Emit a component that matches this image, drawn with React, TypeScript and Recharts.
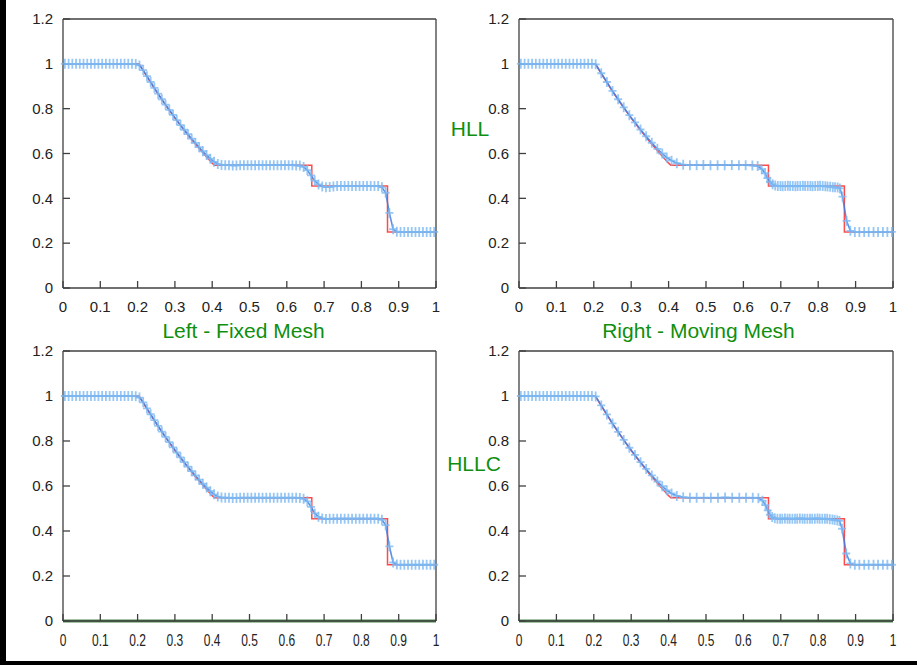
import { LineChart, Line, XAxis, YAxis } from "recharts";

const xTicks = [0, 0.1, 0.2, 0.3, 0.4, 0.5, 0.6, 0.7, 0.8, 0.9, 1];
const yTicks = [0, 0.2, 0.4, 0.6, 0.8, 1, 1.2];

// exact solution (red)
const exactX = [0, 0.204, 0.225, 0.25, 0.275, 0.3, 0.325, 0.35, 0.375, 0.4, 0.406, 0.667, 0.667, 0.87, 0.87, 1];
const exactY = [1, 1, 0.943, 0.877, 0.816, 0.758, 0.703, 0.651, 0.603, 0.557, 0.548, 0.548, 0.455, 0.455, 0.25, 0.25];

// fixed mesh: cell centres
const fixedX = [
  0.005, 0.015, 0.025, 0.035, 0.045, 0.055, 0.065, 0.075, 0.085, 0.095,
  0.105, 0.115, 0.125, 0.135, 0.145, 0.155, 0.165, 0.175, 0.185, 0.195,
  0.205, 0.215, 0.225, 0.235, 0.245, 0.255, 0.265, 0.275, 0.285, 0.295,
  0.305, 0.315, 0.325, 0.335, 0.345, 0.355, 0.365, 0.375, 0.385, 0.395,
  0.405, 0.415, 0.425, 0.435, 0.445, 0.455, 0.465, 0.475, 0.485, 0.495,
  0.505, 0.515, 0.525, 0.535, 0.545, 0.555, 0.565, 0.575, 0.585, 0.595,
  0.605, 0.615, 0.625, 0.635, 0.645, 0.655, 0.665, 0.675, 0.685, 0.695,
  0.705, 0.715, 0.725, 0.735, 0.745, 0.755, 0.765, 0.775, 0.785, 0.795,
  0.805, 0.815, 0.825, 0.835, 0.845, 0.855, 0.865, 0.875, 0.885, 0.895,
  0.905, 0.915, 0.925, 0.935, 0.945, 0.955, 0.965, 0.975, 0.985, 0.995,
];

const hllFixedY = [
  1, 1, 1, 1, 1, 1, 1, 1, 1, 1,
  1, 1, 1, 1, 1, 1, 1, 1, 1, 0.999,
  0.993, 0.972, 0.945, 0.919, 0.893, 0.867, 0.842, 0.818, 0.795, 0.772,
  0.749, 0.727, 0.706, 0.686, 0.666, 0.647, 0.628, 0.61, 0.593, 0.577,
  0.563, 0.553, 0.549, 0.548, 0.548, 0.547, 0.547, 0.548, 0.548, 0.548,
  0.548, 0.548, 0.548, 0.548, 0.548, 0.548, 0.548, 0.548, 0.548, 0.548,
  0.548, 0.548, 0.547, 0.546, 0.54, 0.526, 0.502, 0.478, 0.462, 0.453,
  0.45, 0.451, 0.453, 0.455, 0.455, 0.455, 0.455, 0.455, 0.455, 0.455,
  0.455, 0.455, 0.455, 0.455, 0.455, 0.449, 0.425, 0.335, 0.262, 0.251,
  0.25, 0.25, 0.25, 0.25, 0.25, 0.25, 0.25, 0.25, 0.25, 0.25,
];

const hllcFixedY = [
  1, 1, 1, 1, 1, 1, 1, 1, 1, 1,
  1, 1, 1, 1, 1, 1, 1, 1, 1, 0.999,
  0.993, 0.972, 0.945, 0.919, 0.893, 0.867, 0.842, 0.818, 0.795, 0.772,
  0.749, 0.727, 0.706, 0.686, 0.666, 0.647, 0.628, 0.61, 0.593, 0.577,
  0.563, 0.553, 0.549, 0.548, 0.548, 0.547, 0.547, 0.548, 0.548, 0.548,
  0.548, 0.548, 0.548, 0.548, 0.548, 0.548, 0.548, 0.548, 0.548, 0.548,
  0.548, 0.548, 0.548, 0.547, 0.543, 0.532, 0.507, 0.478, 0.463, 0.456,
  0.453, 0.454, 0.455, 0.455, 0.455, 0.455, 0.455, 0.455, 0.455, 0.455,
  0.455, 0.455, 0.455, 0.455, 0.455, 0.45, 0.426, 0.332, 0.26, 0.251,
  0.25, 0.25, 0.25, 0.25, 0.25, 0.25, 0.25, 0.25, 0.25, 0.25,
];

// moving mesh: node positions
const hllMovingX = [
  0.005, 0.015, 0.025, 0.035, 0.045, 0.055, 0.065, 0.075, 0.085, 0.095,
  0.105, 0.115, 0.125, 0.135, 0.145, 0.155, 0.165, 0.175, 0.185, 0.195,
  0.205, 0.22, 0.235, 0.25, 0.265, 0.28, 0.295, 0.31, 0.325, 0.34,
  0.355, 0.37, 0.383, 0.395, 0.408, 0.422, 0.439,
  0.457, 0.475, 0.493, 0.512, 0.531, 0.55, 0.569, 0.588, 0.606, 0.624,
  0.638, 0.649, 0.658, 0.664, 0.671, 0.678, 0.685,
  0.692, 0.699, 0.705, 0.712, 0.719, 0.725, 0.732, 0.739, 0.745, 0.752,
  0.759, 0.765, 0.772, 0.779, 0.785, 0.792, 0.799, 0.805, 0.812, 0.819,
  0.825, 0.832, 0.839, 0.845, 0.852, 0.858,
  0.865, 0.876, 0.886,
  0.898, 0.91, 0.923, 0.935, 0.948, 0.96, 0.973, 0.985, 0.997,
];
const hllMovingY = [
  1, 1, 1, 1, 1, 1, 1, 1, 1, 1,
  1, 1, 1, 1, 1, 1, 1, 1, 1, 1,
  0.998, 0.958, 0.919, 0.879, 0.842, 0.806, 0.771, 0.739, 0.707, 0.677,
  0.648, 0.621, 0.6, 0.582, 0.568, 0.557, 0.55,
  0.548, 0.548, 0.549, 0.548, 0.548, 0.548, 0.549, 0.548, 0.548, 0.547,
  0.544, 0.53, 0.512, 0.49, 0.474, 0.463, 0.457,
  0.455, 0.455, 0.454, 0.455, 0.456, 0.455, 0.455, 0.454, 0.455, 0.455,
  0.456, 0.455, 0.455, 0.455, 0.454, 0.455, 0.455, 0.456, 0.455, 0.454,
  0.453, 0.452, 0.45, 0.449, 0.448, 0.444,
  0.408, 0.299, 0.255,
  0.25, 0.25, 0.25, 0.25, 0.25, 0.25, 0.25, 0.25, 0.25,
];

const hllcMovingX = [
  0.005, 0.015, 0.025, 0.035, 0.045, 0.055, 0.065, 0.075, 0.085, 0.095,
  0.105, 0.115, 0.125, 0.135, 0.145, 0.155, 0.165, 0.175, 0.185, 0.195,
  0.205, 0.22, 0.235, 0.25, 0.265, 0.28, 0.295, 0.31, 0.325, 0.34,
  0.355, 0.37, 0.383, 0.395, 0.408, 0.422, 0.439,
  0.457, 0.475, 0.494, 0.513, 0.532, 0.551, 0.57, 0.589, 0.607, 0.625,
  0.64, 0.651, 0.659, 0.665, 0.671, 0.677, 0.684,
  0.691, 0.698, 0.704, 0.711, 0.718, 0.724, 0.731, 0.738, 0.744, 0.751,
  0.758, 0.764, 0.771, 0.778, 0.784, 0.791, 0.798, 0.804, 0.811, 0.818,
  0.824, 0.831, 0.838, 0.844, 0.851, 0.857,
  0.864, 0.875, 0.886,
  0.898, 0.91, 0.923, 0.935, 0.948, 0.96, 0.973, 0.985, 0.997,
];
const hllcMovingY = [
  1, 1, 1, 1, 1, 1, 1, 1, 1, 1,
  1, 1, 1, 1, 1, 1, 1, 1, 1, 1,
  0.998, 0.958, 0.918, 0.878, 0.841, 0.805, 0.77, 0.738, 0.706, 0.676,
  0.647, 0.62, 0.599, 0.581, 0.567, 0.556, 0.55,
  0.548, 0.548, 0.548, 0.548, 0.548, 0.549, 0.548, 0.548, 0.548, 0.548,
  0.546, 0.535, 0.515, 0.492, 0.472, 0.462, 0.457,
  0.455, 0.454, 0.455, 0.456, 0.455, 0.455, 0.454, 0.455, 0.455, 0.456,
  0.455, 0.455, 0.454, 0.455, 0.455, 0.455, 0.456, 0.455, 0.454, 0.455,
  0.454, 0.452, 0.451, 0.449, 0.447, 0.445,
  0.41, 0.3, 0.256,
  0.25, 0.25, 0.25, 0.25, 0.25, 0.25, 0.25, 0.25, 0.25,
];

const zeroX = [0, 1];
const zeroY = [0, 0];

const toRows = (xs: number[], ys: number[]) => xs.map((x, i) => ({ x, y: ys[i] }));

const FONT = "'Liberation Sans', Arial, Helvetica, sans-serif";
const FRAME = "#404040";
const GREEN = "#0f8f0f";

const Cross = (p: any) => {
  const { cx, cy, index } = p;
  if (cx == null || cy == null) return <g key={`c${index}`} />;
  return (
    <path
      key={`c${index}`}
      d={`M${cx - 4},${cy}H${cx + 4}M${cx},${cy - 5}V${cy + 5}`}
      stroke="#7db9f2"
      strokeWidth={1.8}
      strokeOpacity={0.8}
      fill="none"
    />
  );
};

const NarrowTick = (p: any) => {
  const { x, y, payload } = p;
  return (
    <text
      transform={`translate(${x},${y}) scale(0.8,1.1)`}
      textAnchor="middle"
      dy="0.71em"
      fill="#222"
      fontSize={15}
      fontFamily={FONT}
    >
      {payload.value}
    </text>
  );
};

type Box = { left: number; top: number; w: number; h: number };
type Plot = { left: number; right: number; top: number; bottom: number };

function Panel({ box, plot, xs, ys, zero, narrow }: { box: Box; plot: Plot; xs: number[]; ys: number[]; zero?: boolean; narrow?: boolean }) {
  const sim = toRows(xs, ys);
  const exact = toRows(exactX, exactY);
  const margin = {
    top: plot.top - box.top - 1,
    right: box.left + box.w - plot.right - 1,
    bottom: 0,
    left: 0,
  };
  const tickStyle = { fill: "#222", fontSize: 15, fontFamily: FONT };
  return (
    <div style={{ position: "absolute", left: box.left, top: box.top }}>
      <LineChart width={box.w} height={box.h} margin={margin}>
        <XAxis
          type="number"
          dataKey="x"
          domain={[0, 1]}
          ticks={xTicks}
          interval={0}
          height={box.top + box.h - plot.bottom}
          tickSize={-7}
          tickMargin={20}
          stroke={FRAME}
          strokeWidth={1.3}
          tick={narrow ? NarrowTick : tickStyle}
        />
        <XAxis
          xAxisId="t"
          orientation="top"
          type="number"
          dataKey="x"
          domain={[0, 1]}
          ticks={xTicks}
          interval={0}
          height={1}
          tickSize={-7}
          stroke={FRAME}
          strokeWidth={1.3}
          tickFormatter={() => ""}
        />
        <YAxis
          type="number"
          domain={[0, 1.2]}
          ticks={yTicks}
          interval={0}
          width={plot.left - box.left}
          tickSize={-7}
          tickMargin={17}
          stroke={FRAME}
          strokeWidth={1.3}
          tick={tickStyle}
        />
        <YAxis
          yAxisId="r"
          orientation="right"
          type="number"
          domain={[0, 1.2]}
          ticks={yTicks}
          interval={0}
          width={1}
          tickSize={-7}
          stroke={FRAME}
          strokeWidth={1.3}
          tickFormatter={() => ""}
        />
        <Line
          data={sim}
          dataKey="y"
          type="linear"
          stroke="none"
          dot={Cross}
          activeDot={false}
          isAnimationActive={false}
        />
        <Line
          data={exact}
          dataKey="y"
          type="linear"
          stroke="#ff2a2a"
          strokeWidth={1.5}
          strokeOpacity={0.85}
          dot={false}
          activeDot={false}
          isAnimationActive={false}
        />
        <Line
          data={sim}
          dataKey="y"
          type="linear"
          stroke="#3a7fe4"
          strokeWidth={1.6}
          strokeOpacity={0.85}
          dot={false}
          activeDot={false}
          isAnimationActive={false}
        />
        {zero && (
          <Line
            data={toRows(zeroX, zeroY)}
            dataKey="y"
            type="linear"
            stroke="#4d8a4d"
            strokeWidth={3}
            dot={false}
            activeDot={false}
            isAnimationActive={false}
          />
        )}
      </LineChart>
    </div>
  );
}

export default function App() {
  return (
    <div style={{ position: "absolute", left: 0, top: 0, width: 917, height: 665, background: "#fff", overflow: "hidden" }}>
      <Panel
        box={{ left: 0, top: 0, w: 460, h: 325 }}
        plot={{ left: 63, right: 436, top: 19, bottom: 288 }}
        xs={fixedX}
        ys={hllFixedY}
      />
      <Panel
        box={{ left: 460, top: 0, w: 457, h: 325 }}
        plot={{ left: 519, right: 893, top: 19, bottom: 288 }}
        xs={hllMovingX}
        ys={hllMovingY}
      />
      <Panel
        box={{ left: 0, top: 335, w: 460, h: 325 }}
        plot={{ left: 63, right: 436, top: 351, bottom: 621 }}
        xs={fixedX}
        ys={hllcFixedY}
        zero
        narrow
      />
      <Panel
        box={{ left: 460, top: 335, w: 457, h: 325 }}
        plot={{ left: 519, right: 893, top: 351, bottom: 621 }}
        xs={hllcMovingX}
        ys={hllcMovingY}
        zero
        narrow
      />
      <svg width={917} height={665} style={{ position: "absolute", left: 0, top: 0, pointerEvents: "none" }}>
        <g fill={GREEN} fontFamily={FONT} fontSize={21} textAnchor="middle">
          <text x={243.5} y={338}>Left - Fixed Mesh</text>
          <text x={698.5} y={338}>Right - Moving Mesh</text>
          <text x={470} y={136}>HLL</text>
          <text x={474} y={471}>HLLC</text>
        </g>
      </svg>
      <div style={{ position: "absolute", left: 0, top: 0, width: 6, height: 665, background: "#000" }} />
      <div style={{ position: "absolute", left: 0, top: 661, width: 917, height: 4, background: "#000" }} />
    </div>
  );
}
